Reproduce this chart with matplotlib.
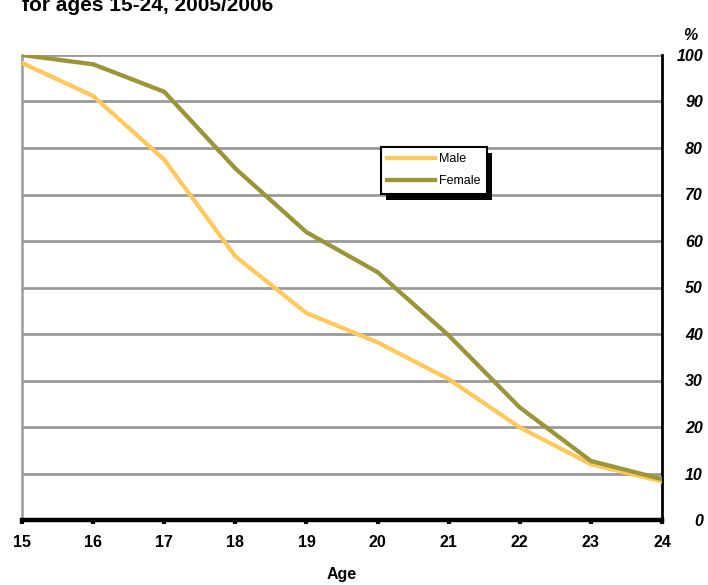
import matplotlib
matplotlib.use("Agg")
import matplotlib.pyplot as plt
from matplotlib.patches import Rectangle

plt.rcParams['font.family'] = ['Liberation Sans', 'DejaVu Sans']

ages = [15, 16, 17, 18, 19, 20, 21, 22, 23, 24]
male = [98.3, 91.2, 77.5, 56.7, 44.5, 38.2, 30.3, 19.9, 12.0, 8.3]
female = [100.0, 98.0, 92.1, 75.6, 61.9, 53.3, 39.7, 24.2, 12.7, 8.8]
yticks = [0, 10, 20, 30, 40, 50, 60, 70, 80, 90, 100]

male_color = '#FFC95E'
female_color = '#9C9438'
grid_color = '#9A9A9A'

fig = plt.figure(figsize=(7.08, 5.85), dpi=100)
ax = fig.add_axes([22/708, 1-520/585, (662-22)/708, (520-55)/585])

for y in yticks[1:]:
    ax.axhline(y, color=grid_color, lw=2.0, zorder=1)

ax.plot(ages, male, color=male_color, lw=3.1, label='Male', zorder=3)
ax.plot(ages, female, color=female_color, lw=3.1, label='Female', zorder=4)

ax.set_xlim(15, 24)
ax.set_ylim(0, 100)
ax.set_xticks(ages)
ax.set_xticklabels([str(a) for a in ages], fontsize=11.5, fontweight='bold')
ax.yaxis.tick_right()
ax.set_yticks(yticks)
ax.set_yticklabels([str(v) for v in yticks], fontsize=11.5, fontweight='bold', style='italic', ha='right')
ax.tick_params(axis='y', length=0, pad=29.5)
ax.tick_params(axis='x', direction='out', length=3, width=3, color='black', pad=8)

ax.spines['top'].set_visible(False)
ax.spines['left'].set_color(grid_color)
ax.spines['left'].set_linewidth(1.8)
ax.spines['right'].set_color('black')
ax.spines['right'].set_linewidth(2.0)
ax.spines['bottom'].set_color('black')
ax.spines['bottom'].set_linewidth(3.2)

ax.set_xlabel('Age', fontsize=11.5, fontweight='bold', labelpad=12)

leg = ax.legend(loc='upper left', bbox_to_anchor=((381-22)/640, (520-147)/465),
                fontsize=9, frameon=True, fancybox=False, shadow=False,
                handlelength=3.85, borderpad=0.5, labelspacing=0.8, handletextpad=0.3,
                borderaxespad=0, framealpha=1)
leg.get_frame().set_edgecolor('black')
leg.get_frame().set_linewidth(1.5)
leg.set_zorder(10)

fig.text(22/708, 1-11/585, 'for ages 15-24, 2005/2006', fontsize=15, fontweight='bold', va='baseline', ha='left')
fig.text(690/708, 1-36/585, '%', fontsize=11.5, fontweight='bold', style='italic', va='center', ha='center')

fig.canvas.draw()
bb = leg.get_window_extent()
shadow = Rectangle((bb.x0 + 5, bb.y0 - 6), bb.width, bb.height, transform=None,
                   facecolor='black', edgecolor='none', zorder=9)
ax.add_artist(shadow)
shadow.set_clip_on(False)

fig.savefig('out.png', dpi=100)
